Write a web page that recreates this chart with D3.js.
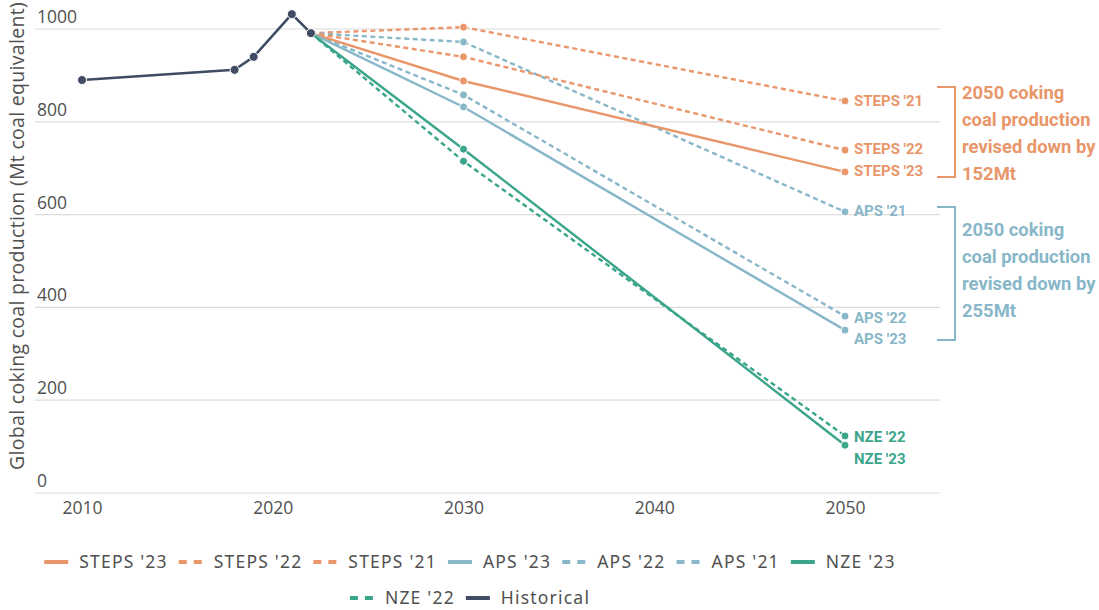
<!DOCTYPE html>
<html><head><meta charset="utf-8">
<script src="https://cdn.jsdelivr.net/npm/d3@7"></script>
<style>body{margin:0;background:#fff;} svg{display:block;}</style>
</head><body><svg id="c" width="1099" height="610"></svg>
<script>
// ---- data ----
const histYears = [2010, 2018, 2019, 2021, 2022];
const histValues = [890, 912, 940, 1032, 991];
const scenYears = [2022, 2030, 2050];
const steps23 = [991, 888, 692];
const steps22 = [991, 940, 739];
const steps21 = [991, 1004, 845];
const aps23 = [991, 832, 351];
const aps22 = [991, 858, 381];
const aps21 = [991, 972, 606];
const nze23 = [991, 741, 103];
const nze22 = [991, 715, 123];
const yTicks = [0, 200, 400, 600, 800, 1000];
const xTicks = [2010, 2020, 2030, 2040, 2050];
const seriesNames = ["STEPS '23","STEPS '22","STEPS '21","APS '23","APS '22","APS '21","NZE '23","NZE '22","Historical"];
const endLabels = ["STEPS '23","STEPS '22","STEPS '21","APS '23","APS '22","APS '21","NZE '23","NZE '22"];
const annotStepsText = ["2050 coking","coal production","revised down by","152Mt"];
const annotApsText = ["2050 coking","coal production","revised down by","255Mt"];

const C = {steps:"#E9966A", aps:"#88B7C9", nze:"#3BA58B", hist:"#3F4C63"};
const series = [
  {name:seriesNames[0], vals:steps23, color:C.steps, dash:false, ly:-1},
  {name:seriesNames[1], vals:steps22, color:C.steps, dash:true, ly:-1},
  {name:seriesNames[2], vals:steps21, color:C.steps, dash:true, ly:0},
  {name:seriesNames[3], vals:aps23, color:C.aps, dash:false, ly:9},
  {name:seriesNames[4], vals:aps22, color:C.aps, dash:true, ly:2},
  {name:seriesNames[5], vals:aps21, color:C.aps, dash:true, ly:-1},
  {name:seriesNames[6], vals:nze23, color:C.nze, dash:false, ly:14},
  {name:seriesNames[7], vals:nze22, color:C.nze, dash:true, ly:1},
];

const svg = d3.select("#c");
const x = d3.scaleLinear().domain([2010, 2050]).range([82, 845]);
const y = d3.scaleLinear().domain([0, 1000]).range([493, 29]);
const gridL = 35, gridR = 940;

// gridlines
svg.append("g").selectAll("line").data(yTicks).join("line")
  .attr("x1", gridL).attr("x2", gridR)
  .attr("y1", d=>y(d)).attr("y2", d=>y(d))
  .attr("stroke", "#dcdcdc").attr("stroke-width", 1.2);
// y tick labels
svg.append("g").selectAll("text").data(yTicks).join("text")
  .attr("x", 37).attr("y", d=>y(d)-6)
  .attr("font-family", "Open Sans, sans-serif").attr("font-size", 17.5)
  .attr("fill", "#505050").text(d=>d);
// x tick labels
const xa = svg.append("g").attr("transform", `translate(0,${y(0)})`)
  .call(d3.axisBottom(x).tickValues(xTicks).tickFormat(d3.format("d")).tickSize(0).tickPadding(9));
xa.select(".domain").remove();
xa.selectAll("text").attr("font-family","Open Sans, sans-serif").attr("font-size",17.5).attr("fill","#505050");

// y axis title
svg.append("text").attr("transform","translate(24,236) rotate(-90)")
  .attr("text-anchor","middle").attr("font-family","Open Sans, sans-serif")
  .attr("font-size",19.5).attr("letter-spacing","0.3px").attr("fill","#505050")
  .text("Global coking coal production (Mt coal equivalent)");

const line = d3.line().x(d=>x(d[0])).y(d=>y(d[1]));

// scenario lines
const order = [2,5,1,4,7,0,3,6];
order.forEach(i=>{
  const s = series[i];
  const pts = scenYears.map((yr,j)=>[yr, s.vals[j]]);
  svg.append("path").datum(pts).attr("d", line).attr("fill","none")
    .attr("stroke", s.color).attr("stroke-width", 2.4)
    .attr("stroke-dasharray", s.dash ? "5,3.5" : null);
  svg.append("g").selectAll("circle").data(pts.slice(1)).join("circle")
    .attr("cx", d=>x(d[0])).attr("cy", d=>y(d[1])).attr("r", 4)
    .attr("fill", s.color).attr("stroke","#fff").attr("stroke-width",1);
});

// historical
const hpts = histYears.map((yr,j)=>[yr, histValues[j]]);
svg.append("path").datum(hpts).attr("d", line).attr("fill","none")
  .attr("stroke", C.hist).attr("stroke-width", 2.6);
svg.append("g").selectAll("circle").data(hpts).join("circle")
  .attr("cx", d=>x(d[0])).attr("cy", d=>y(d[1])).attr("r", 4.5)
  .attr("fill", C.hist).attr("stroke","#fff").attr("stroke-width",1);

// end labels
const labFont = "Roboto, sans-serif";
series.forEach((s,i)=>{
  svg.append("text").attr("x", x(2050)+9).attr("y", y(s.vals[2]) + s.ly)
    .attr("dy","0.35em").attr("font-family", labFont).attr("font-weight","bold")
    .attr("font-size",15).attr("fill", s.color).text(endLabels[i]);
});

// annotation brackets
function bracket(y1, y2, color, lines, ty){
  const bx = 955, bl = 937;
  svg.append("path").attr("d",`M${bl},${y1}H${bx}V${y2}H${bl}`)
    .attr("fill","none").attr("stroke",color).attr("stroke-width",2);
  lines.forEach((t,k)=>{
    svg.append("text").attr("x", 962).attr("y", ty + k*27).attr("dy","0.35em")
      .attr("font-family", labFont).attr("font-weight","bold").attr("font-size",18.4)
      .attr("fill", color).text(t);
  });
}
bracket(87, 177, C.steps, annotStepsText, 93);
bracket(207, 340, C.aps, annotApsText, 230);

// legend
const legItems = series.map(s=>({name:s.name,color:s.color,dash:s.dash}))
  .concat([{name:seriesNames[8],color:C.hist,dash:false}]);
const rows = [legItems.slice(0,7), legItems.slice(7)];
const rowY = [562, 598];
rows.forEach((items, r)=>{
  const g = svg.append("g");
  let cx = 0;
  items.forEach(it=>{
    const gi = g.append("g").attr("transform",`translate(${cx},0)`);
    gi.append("line").attr("x1",0).attr("x2",24).attr("y1",0).attr("y2",0)
      .attr("stroke",it.color).attr("stroke-width",4)
      .attr("stroke-dasharray", it.dash ? "8,7" : null);
    const t = gi.append("text").attr("x",35).attr("dy","0.35em")
      .attr("font-family","'Noto Sans', sans-serif").attr("font-size",17.5)
      .attr("letter-spacing","1.2px")
      .attr("fill","#505050").text(it.name);
    cx += 35 + t.node().getComputedTextLength() + 11;
  });
  const w = cx - 11;
  g.attr("transform",`translate(${470 - w/2},${rowY[r]})`);
});
</script></body></html>
